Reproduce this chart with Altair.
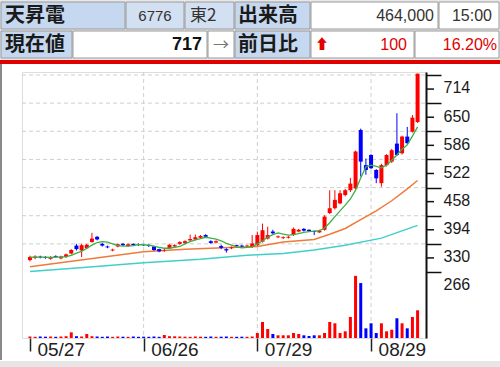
import altair as alt
import pandas as pd

# ---------------- data ----------------
idx = list(range(76))
opens = [293, 298, 301, 300, 296, 302, 297, 300, 308, 326,
         315, 320, 334, 346, 330, 324, 315, 324, 330, 325,
         330, 329, 328, 327, 324, 318, 315, 320, 324, 330,
         332, 338, 340, 344, 350, 336, 333, 325, 318, 320,
         327, 326, 325, 323, 327, 335, 342, 358, 345, 343,
         344, 350, 358, 364, 362, 359, 356, 362, 400, 411,
         422, 441, 452, 456, 589, 509, 532, 498, 468, 509,
         517, 558, 536, 574, 585, 607]
highs = [303, 304, 303, 302, 302, 304, 303, 308, 318, 330,
         330, 330, 355, 348, 332, 326, 319, 331, 332, 331,
         331, 331, 330, 329, 325, 319, 319, 329, 329, 336,
         338, 351, 351, 350, 352, 338, 338, 328, 320, 324,
         328, 328, 328, 350, 358, 376, 369, 362, 349, 347,
         348, 367, 364, 366, 363, 360, 362, 395, 452, 452,
         452, 455, 480, 542, 592, 524, 534, 500, 512, 534,
         546, 627, 576, 596, 623, 717]
lows = [290, 295, 297, 296, 294, 299, 295, 298, 306, 315,
        300, 318, 333, 338, 324, 320, 313, 322, 325, 323,
        325, 325, 325, 323, 314, 311, 312, 318, 322, 328,
        330, 336, 338, 342, 344, 330, 331, 318, 310, 318,
        322, 322, 323, 321, 325, 333, 340, 352, 343, 341,
        342, 348, 356, 358, 357, 350, 355, 360, 398, 408,
        420, 438, 448, 454, 483, 487, 500, 468, 460, 506,
        514, 530, 533, 556, 583, 605]
closes = [300, 301, 299, 298, 300, 300, 301, 306, 316, 318,
          327, 328, 342, 340, 326, 322, 317, 329, 327, 329,
          327, 328, 327, 325, 316, 313, 316, 328, 327, 334,
          336, 341, 345, 348, 346, 332, 336, 321, 315, 322,
          325, 324, 326, 331, 350, 361, 350, 354, 347, 345,
          346, 364, 362, 360, 359, 357, 360, 392, 411, 430,
          445, 452, 467, 540, 517, 498, 502, 479, 509, 532,
          543, 532, 574, 559, 617, 717]
volumes = [25, 20, 25, 22, 25, 20, 25, 30, 95, 30,
           25, 67, 30, 25, 20, 25, 20, 25, 22, 20,
           25, 20, 22, 20, 25, 20, 50, 30, 28, 25,
           22, 20, 25, 22, 20, 25, 20, 22, 25, 20,
           20, 22, 20, 25, 84, 268, 150, 67, 45, 45,
           45, 84, 67, 45, 34, 45, 45, 84, 268, 246,
           84, 112, 352, 1040, 920, 162, 246, 84, 246, 112,
           139, 330, 246, 162, 352, 464]  # thousand shares

ma_short = [300, 300, 300, 300, 299, 300, 300, 301, 304, 309,
            313, 320, 327, 333, 335, 334, 330, 326, 325, 325,
            326, 328, 328, 327, 325, 322, 320, 320, 322, 324,
            330, 335, 339, 342, 345, 343, 341, 337, 331, 327,
            323, 321, 322, 323, 330, 337, 345, 351, 355, 352,
            350, 351, 353, 356, 358, 359, 360, 366, 378, 392,
            405, 418, 432, 452, 480, 505, 509, 506, 503, 509,
            520, 532, 545, 555, 575, 596]
ma_mid_i = [0, 11, 22, 30, 40, 44, 49, 55, 58, 61, 64, 67, 70, 73, 75]
ma_mid = [278, 295, 312, 318, 322, 324, 334, 340, 352, 365, 385, 405, 428, 455, 474]
ma_long_i = [0, 11, 22, 33, 42, 49, 55, 61, 68, 75]
ma_long = [267, 277, 287, 295, 304, 308, 316, 327, 343, 372]

date_ticks = [0, 22, 44, 66]
date_labels = ["05/27", "06/26", "07/29", "08/29"]
price_ticks = [266, 330, 394, 458, 522, 586, 650, 714]
minor_ticks = [298, 362, 426, 490, 554, 618, 682]

# ---------------- layout ----------------
OX, OY = 22, 72
W, H = 404, 266
FONT = "Liberation Sans"
JFONT = "Noto Sans CJK JP"
UP, DOWN = "#ff0000", "#0000ff"

xs = alt.Scale(domain=[-0.566, 75.66], nice=False, zero=False)
ps = alt.Scale(domain=[115.9, 720.8], nice=False, zero=False)
vs = alt.Scale(domain=[0, 4455], nice=False, zero=True)

df = pd.DataFrame(dict(i=idx, o=opens, h=highs, l=lows, c=closes, v=volumes))
df["col"] = [UP if c >= o else DOWN for o, c in zip(opens, closes)]

label_expr = "".join(
    f"datum.value=={t}?'{l}':" for t, l in zip(date_ticks, date_labels)) + "''"

X_AXIS = alt.Axis(
    values=date_ticks, labelExpr=label_expr, title=None, grid=False,
    domain=False, tickSize=13, tickColor="#222", tickWidth=1.5,
    labelFont=FONT, labelFontSize=19, labelColor="#222",
    labelAlign="left", labelBaseline="top", labelOffset=7,
    labelPadding=-11)
X = alt.X("i:Q", scale=xs, axis=X_AXIS)
COL = alt.Color("col:N", scale=None)

hgrid = alt.Chart(pd.DataFrame({"p": price_ticks[1:]})).mark_rule(
    color="#cfcfcf", strokeDash=[4, 3], strokeWidth=1
).encode(y=alt.Y("p:Q", scale=ps, axis=None), x=alt.value(0), x2=alt.value(W))

vgrid = alt.Chart(pd.DataFrame({"i": date_ticks[1:]})).mark_rule(
    color="#cfcfcf", strokeDash=[4, 3], strokeWidth=1
).encode(x=X, y=alt.value(0), y2=alt.value(H))

vol = alt.Chart(df).mark_bar(size=3).encode(
    x=X, y=alt.Y("v:Q", scale=vs, axis=None), color=COL)

wick = alt.Chart(df).mark_rule(strokeWidth=1).encode(
    x=X,
    y=alt.Y("l:Q", scale=ps, axis=alt.Axis(
        orient="right", values=price_ticks, title=None, grid=False,
        domain=True, domainColor="#111", domainWidth=2,
        tickSize=15, tickColor="#111", tickWidth=1.5,
        labelFont=FONT, labelFontSize=16, labelColor="#1a1a1a",
        labelAlign="left", labelBaseline="middle", labelOffset=13,
        labelPadding=2)),
    y2="h:Q", color=COL)

body = alt.Chart(df).mark_bar(size=4).encode(
    x=X, y=alt.Y("o:Q", scale=ps, axis=None), y2="c:Q", color=COL)

minor = alt.Chart(pd.DataFrame({"p": minor_ticks})).mark_rule(
    color="#111", strokeWidth=1.5
).encode(y=alt.Y("p:Q", scale=ps, axis=None), x=alt.value(W), x2=alt.value(W + 8))

l_short = alt.Chart(pd.DataFrame({"i": idx, "m": ma_short})).mark_line(
    color="#3cb043", strokeWidth=1.3).encode(x=X, y=alt.Y("m:Q", scale=ps, axis=None))
l_mid = alt.Chart(pd.DataFrame({"i": ma_mid_i, "m": ma_mid})).mark_line(
    color="#f07a3a", strokeWidth=1.5).encode(x=X, y=alt.Y("m:Q", scale=ps, axis=None))
l_long = alt.Chart(pd.DataFrame({"i": ma_long_i, "m": ma_long})).mark_line(
    color="#40d0c8", strokeWidth=1.5).encode(x=X, y=alt.Y("m:Q", scale=ps, axis=None))

# ---------------- header table ----------------
one = pd.DataFrame({"k": [0]})


def box(x1, y1, x2, y2, fill, stroke=None):
    kw = dict(fill=fill)
    if stroke:
        kw.update(stroke=stroke, strokeWidth=1)
    return alt.Chart(one).mark_rect(**kw).encode(
        x=alt.value(x1 - OX), x2=alt.value(x2 - OX),
        y=alt.value(y1 - OY), y2=alt.value(y2 - OY))


def txt(s, x, y, size, color="#222", align="left", font=FONT, weight="normal"):
    return alt.Chart(one).mark_text(
        text=s, align=align, baseline="middle", fontSize=size, font=font,
        color=color, fontWeight=weight).encode(
        x=alt.value(x - OX), y=alt.value(y - OY))


LB = "#c6d8ef"   # label cell blue
LB2 = "#d3e0f1"
header = [
    box(0, 0, 500, 60, "#e8e8e8"),
    box(1, 2, 125, 29, LB, "#9a9a9a"),
    box(126, 2, 184, 29, LB2, "#9a9a9a"),
    box(185, 2, 234, 29, LB2, "#9a9a9a"),
    box(235, 2, 310, 29, LB, "#9a9a9a"),
    box(311, 2, 438, 29, "#ffffff", "#9a9a9a"),
    box(439, 2, 499, 29, "#ffffff", "#9a9a9a"),
    box(1, 31, 72, 58, LB, "#9a9a9a"),
    box(73, 31, 207, 58, "#ffffff", "#9a9a9a"),
    box(208, 31, 234, 58, "#ffffff", "#9a9a9a"),
    box(235, 31, 310, 58, LB, "#9a9a9a"),
    box(311, 31, 414, 58, "#ffffff", "#9a9a9a"),
    box(415, 31, 499, 58, "#ffffff", "#9a9a9a"),
    txt("天昇電", 5, 16, 20, "#1a1a1a", font=JFONT, weight="bold"),
    txt("6776", 155, 16, 15, "#333", align="center"),
    txt("東2", 190, 16, 17, "#333", font=JFONT),
    txt("出来高", 238, 16, 20, "#1a1a1a", font=JFONT, weight="bold"),
    txt("464,000", 434, 16, 16, "#333", align="right"),
    txt("15:00", 492, 16, 16, "#333", align="right"),
    txt("現在値", 5, 45, 20, "#1a1a1a", font=JFONT, weight="bold"),
    txt("717", 202, 45, 18, "#111", align="right", weight="bold"),
    txt("→", 221, 45, 16, "#777", align="center", font=JFONT),
    txt("前日比", 238, 45, 20, "#1a1a1a", font=JFONT, weight="bold"),
    txt("⬆", 322, 45, 14, "#e00000", align="center", font=JFONT),
    txt("100", 407, 45, 16, "#e00000", align="right"),
    txt("16.20%", 497, 45, 16, "#e00000", align="right"),
    box(0, 60, 500, 64, "#e00000"),
    box(0, 64, 2, 360, "#8a8a8a"),
    box(0, 361, 500, 367, "#e6e6e6"),
]

chart = alt.layer(
    *header, hgrid, vgrid, vol, l_long, l_mid, wick, body, l_short, minor
).resolve_scale(y="independent").properties(
    width=W, height=H,
    autosize=alt.AutoSizeParams(type="none"),
    padding={"left": OX, "top": OY, "right": 500 - OX - W, "bottom": 367 - OY - H},
).configure_view(stroke=None).configure(background="#ffffff")

chart.save("out.html", embed_options={"renderer": "svg", "actions": False})
